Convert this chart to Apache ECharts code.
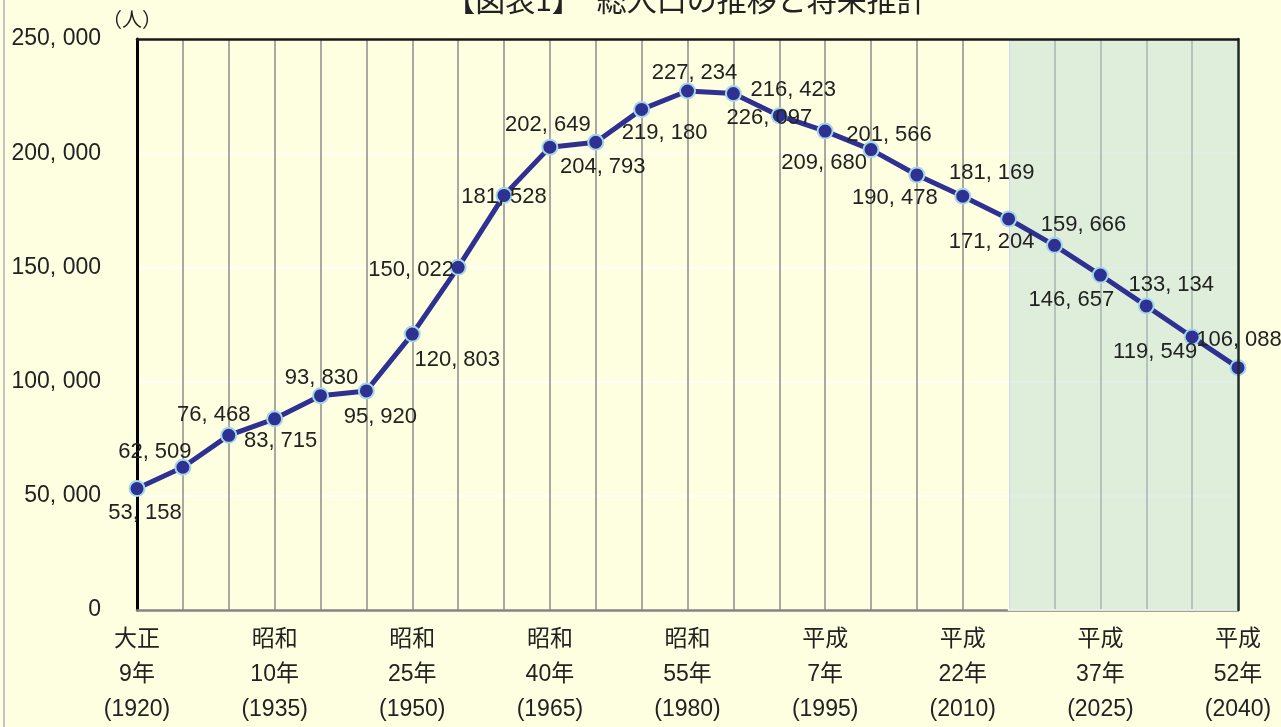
<!DOCTYPE html>
<html>
<head>
<meta charset="utf-8">
<script src="https://cdn.jsdelivr.net/npm/echarts@6/dist/echarts.min.js"></script>
<style>
  html, body { margin: 0; padding: 0; background: #fefee0; }
  #chart { width: 1281px; height: 727px; }
</style>
</head>
<body>
<div id="chart"></div>
<script>
// 総人口の推移と将来推計 (5年ごと)
const years = ['1920','1925','1930','1935','1940','1945','1950','1955','1960','1965','1970','1975','1980','1985','1990','1995','2000','2005','2010','2015','2020','2025','2030','2035','2040'];
const eraNames = ['大正','','','昭和','','','昭和','','','昭和','','','昭和','','','平成','','','平成','','','平成','','','平成'];
const eraYears = ['9年','','','10年','','','25年','','','40年','','','55年','','','7年','','','22年','','','37年','','','52年'];
const population = [53158, 62509, 76468, 83715, 93830, 95920, 120803, 150022, 181528, 202649, 204793, 219180, 227234, 226097, 216423, 209680, 201566, 190478, 181169, 171204, 159666, 146657, 133134, 119549, 106088];
const yTicks = [0, 50000, 100000, 150000, 200000, 250000];
const projectionStart = '2015';
const projectionEnd = '2040';

// label placement around each marker (px, relative to the marker centre)
const labelOffsets = [[8,24],[-28,-15],[-15,-20],[6,22],[1,-18],[14,26],[45,26],[-47,3],[0,2],[-2,-22],[7,25],[23,24],[7,-18],[36,24],[14,-26],[-1,32],[18,-15],[-22,23],[29,-23],[-17,23],[29,-20],[-29,25],[25,-21],[-37,15],[1,-28]];

const NUM_FONT = '"Liberation Sans", "Noto Sans CJK JP", sans-serif';
const JP_FONT = '"Noto Sans CJK JP", sans-serif';

function fmt(v) {
  return String(v).replace(/\B(?=(\d{3})+(?!\d))/g, ', ');
}

const chart = echarts.init(document.getElementById('chart'));

chart.setOption({
  backgroundColor: '#fefee0',
  animation: false,
  grid: {
    left: 137, right: 43, top: 39, bottom: 117,
    outerBoundsMode: 'none',
    containLabel: false
  },
  graphic: [
    { type: 'rect', left: 3, top: 0, shape: { width: 2, height: 727 }, style: { fill: '#c4c4c4' }, silent: true },
    { type: 'text', x: 686, y: -15, style: { text: '【図表1】　総人口の推移と将来推計', font: '30px ' + JP_FONT, fill: '#222', align: 'center', verticalAlign: 'top' } },
    { type: 'text', x: 132, y: 19, style: { text: '（人）', font: '20px ' + JP_FONT, fill: '#222', align: 'center', verticalAlign: 'middle' } }
  ],
  xAxis: [{
    type: 'category',
    data: years,
    boundaryGap: false,
    axisLine: { onZero: false, lineStyle: { color: '#858585', width: 2.5 } },
    axisTick: { show: false },
    splitLine: { show: true, interval: 0, showMinLine: false, showMaxLine: false, lineStyle: { color: '#8c8c8c', width: 1.5 } },
    axisLabel: {
      interval: 2,
      margin: 12,
      color: '#222',
      fontSize: 23,
      fontFamily: NUM_FONT,
      lineHeight: 35,
      formatter: (val, idx) => eraNames[idx] + '\n' + eraYears[idx] + '\n(' + val + ')'
    }
  }, {
    // frame: top edge
    type: 'category',
    data: years,
    boundaryGap: false,
    position: 'top',
    z: 6,
    axisLine: { show: true, onZero: false, lineStyle: { color: '#1a1a1a', width: 2.5 } },
    axisTick: { show: false },
    axisLabel: { show: false },
    splitLine: { show: false }
  }],
  yAxis: [{
    type: 'value',
    min: yTicks[0],
    max: yTicks[yTicks.length - 1],
    interval: yTicks[1] - yTicks[0],
    axisLine: { show: true, onZero: false, lineStyle: { color: '#000', width: 3 } },
    axisTick: { show: false },
    splitLine: { show: true, showMinLine: false, showMaxLine: false, lineStyle: { color: '#ffffff', width: 1.5 } },
    axisLabel: {
      margin: 36,
      color: '#222',
      fontSize: 23,
      fontFamily: NUM_FONT,
      formatter: v => fmt(v)
    }
  }, {
    // frame: right edge
    type: 'value',
    position: 'right',
    min: yTicks[0],
    max: yTicks[yTicks.length - 1],
    interval: yTicks[1] - yTicks[0],
    z: 6,
    axisLine: { show: true, onZero: false, lineStyle: { color: '#1e2a26', width: 2.5 } },
    axisTick: { show: false },
    axisLabel: { show: false },
    splitLine: { show: false }
  }],
  series: [{
    type: 'line',
    data: population.map((v, i) => ({
      value: v,
      label: { offset: labelOffsets[i] }
    })),
    lineStyle: { color: '#2e3192', width: 5 },
    symbol: 'circle',
    symbolSize: 15,
    itemStyle: { color: '#2e3192', borderColor: '#a4d6e8', borderWidth: 2 },
    label: {
      show: true,
      position: 'inside',
      color: '#222',
      textBorderWidth: 0,
      textBorderColor: 'transparent',
      fontSize: 22,
      fontFamily: NUM_FONT,
      formatter: p => fmt(p.value)
    },
    markArea: {
      silent: true,
      itemStyle: { color: 'rgba(191,222,214,0.5)', borderColor: '#ffffff', borderWidth: 1.5 },
      data: [[{ xAxis: projectionStart, yAxis: yTicks[yTicks.length - 1] }, { xAxis: projectionEnd, yAxis: yTicks[0] }]]
    },
    z: 3
  }]
});
</script>
</body>
</html>
